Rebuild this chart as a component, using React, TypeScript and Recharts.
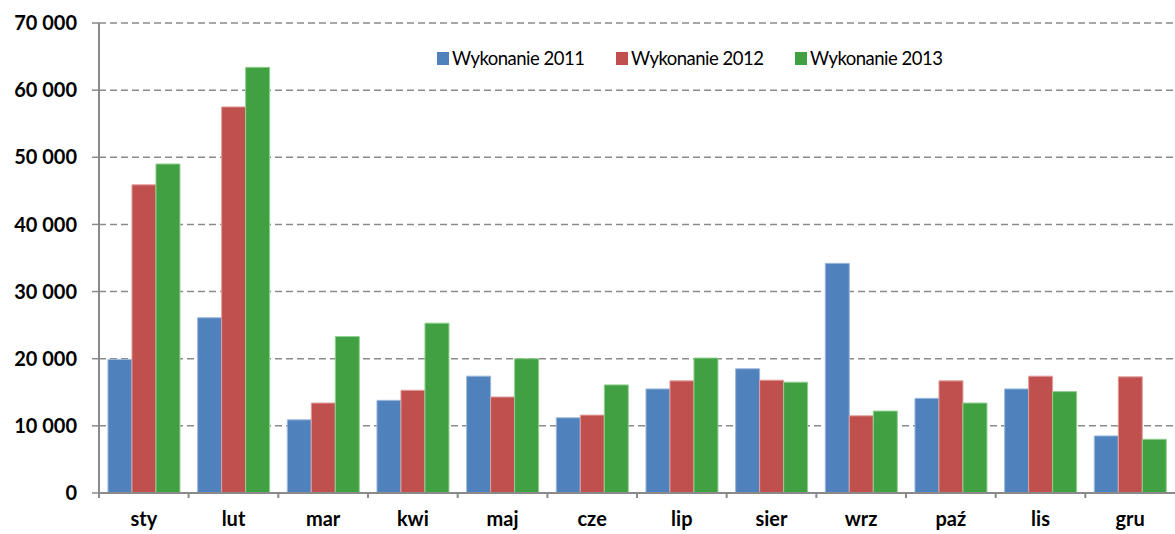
import React from 'react';
import { BarChart, Bar, XAxis, YAxis, CartesianGrid } from 'recharts';

const months = ['sty', 'lut', 'mar', 'kwi', 'maj', 'cze', 'lip', 'sier', 'wrz', 'paź', 'lis', 'gru'];
const wyk2011 = [19900, 26100, 10900, 13800, 17400, 11200, 15500, 18500, 34200, 14100, 15500, 8500];
const wyk2012 = [45900, 57500, 13400, 15300, 14300, 11600, 16700, 16800, 11500, 16700, 17400, 17300];
const wyk2013 = [49000, 63400, 23300, 25300, 20000, 16100, 20100, 16500, 12200, 13400, 15100, 8000];
const yTicks = [0, 10000, 20000, 30000, 40000, 50000, 60000, 70000];

const seriesNames = ['Wykonanie 2011', 'Wykonanie 2012', 'Wykonanie 2013'];
const colors = ['#4F81BD', '#C0504D', '#41A041'];
const edges = ['#9DB8DC', '#E0A09E', '#8FD08F'];

const data = months.map((m, i) => ({
  month: m,
  w2011: wyk2011[i],
  w2012: wyk2012[i],
  w2013: wyk2013[i],
}));

const FONT = 'Lato, "Open Sans", sans-serif';
const GRAY = '#8A8A8A';

const formatTick = (v: number) => v.toString().replace(/\B(?=(\d{3})+(?!\d))/g, ' ');

function MonthTick(props: any) {
  const { x, y, payload } = props;
  const half = payload.offset || 0;
  return (
    <g>
      <line x1={x - half} y1={y - 8} x2={x - half} y2={y - 3} stroke={GRAY} strokeWidth={2} />
      <text
        x={x}
        y={y + 25}
        textAnchor="middle"
        fontFamily={FONT}
        fontWeight="bold"
        fontSize={20}
        fill="#000"
      >
        {payload.value}
      </text>
    </g>
  );
}

function LegendBox() {
  return (
    <div
      style={{
        position: 'absolute',
        left: 437,
        top: 46,
        display: 'flex',
        fontFamily: FONT,
        fontSize: 18.5,
        letterSpacing: -0.5,
        lineHeight: '24px',
        color: '#000',
      }}
    >
      {seriesNames.map((n, i) => (
        <div key={n} style={{ display: 'flex', alignItems: 'center', width: 179 }}>
          <span
            style={{ display: 'inline-block', width: 12, height: 13, background: colors[i], marginRight: 3 }}
          />
          <span>{n}</span>
        </div>
      ))}
    </div>
  );
}

export default function App() {
  return (
    <div style={{ position: 'absolute', left: 0, top: 0, width: 1175, height: 534, background: '#fff' }}>
      <BarChart
        width={1175}
        height={534}
        data={data}
        margin={{ top: 23, right: 0, left: 0, bottom: 0 }}
        barCategoryGap="10%"
        barGap={0}
      >
        <CartesianGrid
          horizontal={true}
          vertical={false}
          stroke={GRAY}
          strokeDasharray="7 4"
          strokeWidth={1.5}
        />
        <XAxis
          dataKey="month"
          height={41}
          axisLine={{ stroke: GRAY, strokeWidth: 2 }}
          tickLine={false}
          tick={<MonthTick />}
          interval={0}
        />
        <YAxis
          width={99}
          domain={[0, 70000]}
          ticks={yTicks}
          tickFormatter={formatTick}
          axisLine={{ stroke: GRAY, strokeWidth: 2 }}
          tickLine={{ stroke: GRAY, strokeWidth: 1.5 }}
          tickSize={7}
          tickMargin={15}
          tick={{ fill: '#000', fontFamily: FONT, fontWeight: 'bold', fontSize: 20 }}
        />
        <Bar dataKey="w2011" name={seriesNames[0]} fill={colors[0]} stroke={edges[0]} strokeWidth={1} isAnimationActive={false} />
        <Bar dataKey="w2012" name={seriesNames[1]} fill={colors[1]} stroke={edges[1]} strokeWidth={1} isAnimationActive={false} />
        <Bar dataKey="w2013" name={seriesNames[2]} fill={colors[2]} stroke={edges[2]} strokeWidth={1} isAnimationActive={false} />
      </BarChart>
      <LegendBox />
    </div>
  );
}
